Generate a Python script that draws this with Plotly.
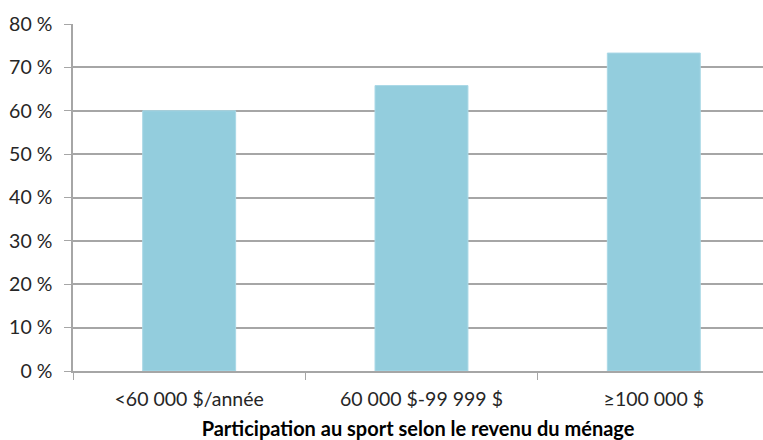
import plotly.graph_objects as go

# Household income groups and sport participation rate (%)
categories = ["<60 000 $/année", "60 000 $-99 999 $", "≥100 000 $"]
participation = [60.0, 65.8, 73.3]
y_ticks = [0, 10, 20, 30, 40, 50, 60, 70, 80]

grid_color = "#A6A6A6"
text_color = "#262626"
font_family = "Lato, 'Open Sans', sans-serif"

fig = go.Figure(
    go.Bar(
        x=categories,
        y=participation,
        marker=dict(color="#93CDDD", line=dict(color="#A9D8E6", width=1)),
        width=0.4,
        hoverinfo="x+y",
    )
)

fig.update_layout(
    width=763,
    height=440,
    margin=dict(l=73, r=0, t=24, b=69),
    paper_bgcolor="white",
    plot_bgcolor="white",
    showlegend=False,
    font=dict(family=font_family, size=19.5, color=text_color),
)

fig.update_xaxes(
    type="category",
    range=[-0.5, 2.47],
    showgrid=False,
    showline=True,
    linecolor=grid_color,
    linewidth=1.5,
    ticks="outside",
    tickson="boundaries",
    ticklen=7,
    tickcolor=grid_color,
    ticklabelstandoff=10,
    tickfont=dict(size=19.5, color=text_color),
    title=dict(
        text="<b>Participation au sport selon le revenu du ménage</b>",
        font=dict(size=20, color="#000000"),
        standoff=16,
    ),
)

fig.update_yaxes(
    range=[0, 80],
    tickvals=y_ticks,
    ticktext=[f"{v} %" for v in y_ticks],
    showgrid=True,
    gridcolor=grid_color,
    gridwidth=1.5,
    showline=True,
    linecolor=grid_color,
    linewidth=1.5,
    ticks="outside",
    ticklen=7,
    tickcolor=grid_color,
    ticklabelstandoff=8,
    tickfont=dict(size=19.5, color=text_color),
    zeroline=False,
)

fig.write_html("out.html")
